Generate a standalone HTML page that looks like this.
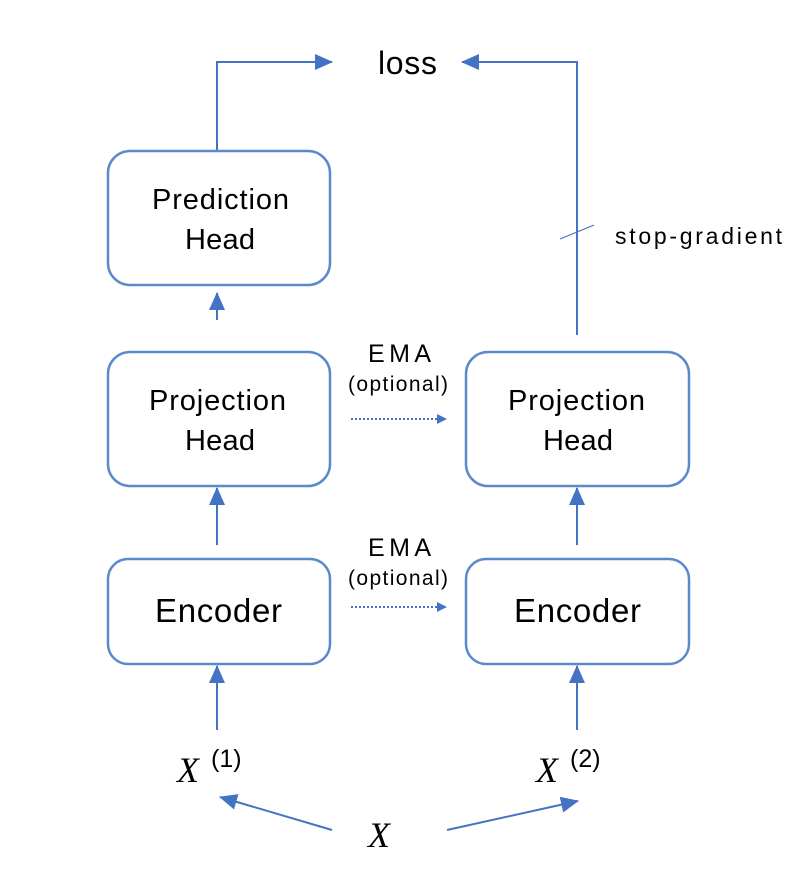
<!DOCTYPE html>
<html><head><meta charset="utf-8"><style>
body{margin:0;background:#fff;}
svg{display:block;}
text{font-family:"Liberation Sans","DejaVu Sans",sans-serif;fill:#000;}
.m{font-family:"Liberation Serif",serif;font-style:italic;}
</style></head><body>
<svg width="792" height="880" viewBox="0 0 792 880" xmlns="http://www.w3.org/2000/svg">
<defs>
<marker id="a" markerWidth="10" markerHeight="10" refX="9" refY="5" orient="auto" markerUnits="userSpaceOnUse" viewBox="0 0 10 10"><path d="M0,0 L10,5 L0,10 z" fill="#4472C4"/></marker>
<marker id="b" markerWidth="18" markerHeight="16" refX="17" refY="8" orient="auto" markerUnits="userSpaceOnUse" viewBox="0 0 18 16"><path d="M0,0 L18,8 L0,16 z" fill="#4472C4"/></marker>
</defs>
<g fill="#fff" stroke="#5B8ACB" stroke-width="2.5">
<rect x="108" y="151" width="222" height="134" rx="22"/>
<rect x="108" y="352" width="222" height="134" rx="22"/>
<rect x="108" y="559" width="222" height="105" rx="20"/>
<rect x="466" y="352" width="223" height="134" rx="22"/>
<rect x="466" y="559" width="223" height="105" rx="20"/>
</g>
<g stroke="#4472C4" stroke-width="2" fill="none">
<polyline points="217,150 217,62 332,62" marker-end="url(#b)"/>
<polyline points="577,335 577,62 462,62" marker-end="url(#b)"/>
<line x1="217" y1="320" x2="217" y2="293" marker-end="url(#b)"/>
<line x1="217" y1="545" x2="217" y2="488" marker-end="url(#b)"/>
<line x1="577" y1="545" x2="577" y2="488" marker-end="url(#b)"/>
<line x1="217" y1="730" x2="217" y2="666" marker-end="url(#b)"/>
<line x1="577" y1="730" x2="577" y2="666" marker-end="url(#b)"/>
<line x1="332" y1="830" x2="220" y2="797" marker-end="url(#b)"/>
<line x1="447" y1="830" x2="578" y2="801" marker-end="url(#b)"/>
<line x1="351" y1="419" x2="446" y2="419" stroke-dasharray="2,2" marker-end="url(#a)"/>
<line x1="351" y1="607" x2="446" y2="607" stroke-dasharray="2,2" marker-end="url(#a)"/>
<line x1="560" y1="239" x2="594" y2="225" stroke-width="1.2"/>
</g>
<g font-size="29">
<text x="152" y="209" textLength="137">Prediction</text>
<text x="185" y="249" textLength="70">Head</text>
<text x="149" y="410" textLength="137">Projection</text>
<text x="185" y="450" textLength="70">Head</text>
<text x="508" y="410" textLength="137">Projection</text>
<text x="543" y="450" textLength="70">Head</text>
<text x="155" y="622" font-size="33" textLength="127">Encoder</text>
<text x="514" y="622" font-size="33" textLength="127">Encoder</text>
<text x="378" y="74" font-size="32" textLength="59">loss</text>
<text x="368" y="362" font-size="25" textLength="63">EMA</text>
<text x="348" y="391" font-size="21" textLength="100">(optional)</text>
<text x="368" y="556" font-size="25" textLength="63">EMA</text>
<text x="348" y="585" font-size="21" textLength="100">(optional)</text>
<text x="615" y="244" font-size="23" textLength="167">stop-gradient</text>
</g>
<text x="177" y="782" font-size="36" class="m">X</text>
<text x="211" y="767" font-size="25">(1)</text>
<text x="536" y="782" font-size="36" class="m">X</text>
<text x="570" y="767" font-size="25">(2)</text>
<text x="368" y="847" font-size="36" class="m">X</text>
</svg>
</body></html>
